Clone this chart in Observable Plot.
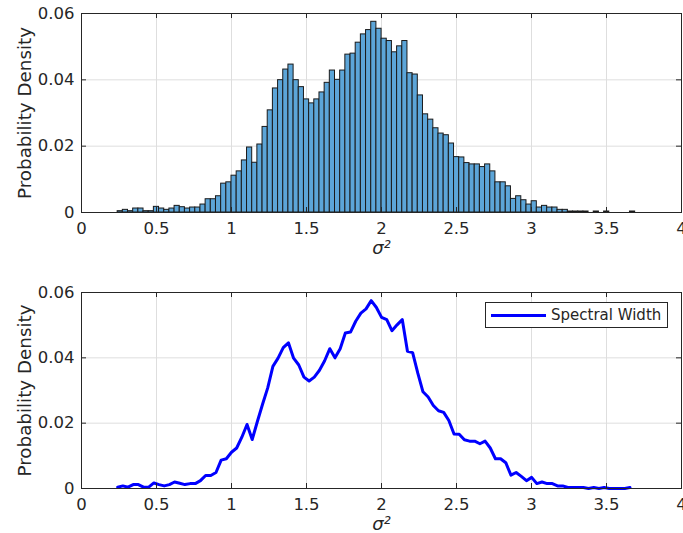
<!DOCTYPE html>
<html>
<head>
<meta charset="utf-8">
<script src="https://cdn.jsdelivr.net/npm/d3@7"></script>
<script src="https://cdn.jsdelivr.net/npm/@observablehq/plot@0.6"></script>
<style>
  html, body { margin: 0; padding: 0; background: #fff; }
  #chart { position: relative; width: 683px; height: 533px; font-family: "DejaVu Sans", sans-serif; }
  #chart svg { display: block; }
  .legend { position: absolute; left: 485px; top: 302px; width: 181px; height: 24px;
            border: 1px solid #262626; background: #fff; box-sizing: content-box; }
  .legend .swatch { position: absolute; left: 5px; top: 11px; width: 55px; height: 3px; background: #0000ff; }
  .legend .label { position: absolute; left: 65px; top: 0; line-height: 24px; font-size: 15px; color: #262626; white-space: nowrap; }
</style>
</head>
<body>
<div id="chart"></div>
<script>
// Histogram of sigma^2 (probability per bin, 100 equal bins)
const binStart = 0.241;
const binWidth = 0.0345;
const density = [
  0.0004, 0.0008, 0.0004, 0.0012, 0.0012, 0.0004, 0.0004, 0.0017, 0.0012, 0.0008,
  0.0012, 0.0020, 0.0016, 0.0012, 0.0015, 0.0015, 0.0024, 0.0040, 0.0040, 0.0049,
  0.0087, 0.0091, 0.0111, 0.0124, 0.0157, 0.0196, 0.0150, 0.0205, 0.0258, 0.0308,
  0.0374, 0.0399, 0.0431, 0.0446, 0.0399, 0.0378, 0.0341, 0.0329, 0.0341, 0.0362,
  0.0391, 0.0428, 0.0400, 0.0428, 0.0476, 0.0479, 0.0512, 0.0537, 0.0550, 0.0575,
  0.0554, 0.0524, 0.0517, 0.0483, 0.0501, 0.0517, 0.0420, 0.0416, 0.0353, 0.0296,
  0.0280, 0.0254, 0.0238, 0.0233, 0.0208, 0.0167, 0.0166, 0.0149, 0.0145, 0.0145,
  0.0137, 0.0145, 0.0124, 0.0091, 0.0091, 0.0079, 0.0041, 0.0049, 0.0037, 0.0024,
  0.0034, 0.0015, 0.0020, 0.0015, 0.0015, 0.0008, 0.0008, 0.0003, 0.0003, 0.0003,
  0.0003, 0.0000, 0.0003, 0.0000, 0.0003, 0.0000, 0.0000, 0.0000, 0.0000, 0.0003
];
const xTicks = [0, 0.5, 1, 1.5, 2, 2.5, 3, 3.5, 4];
const yTicks = [0, 0.02, 0.04, 0.06];
const yLabel = "Probability Density";
const xLabel = "σ²";
const seriesName = "Spectral Width";

const bins = density.map((p, i) => ({
  x1: binStart + i * binWidth,
  x2: binStart + (i + 1) * binWidth,
  p
}));

const ink = "#262626";
const W = 683, ML = 81, MR = 2;

function panel({height, marginTop, marginBottom, data}) {
  const ph = height - marginTop - marginBottom;
  const pw = W - ML - MR;
  return Plot.plot({
    width: W, height, marginLeft: ML, marginRight: MR, marginTop, marginBottom,
    style: {fontFamily: "DejaVu Sans", fontSize: "16.5px", color: ink, background: "white", overflow: "visible"},
    x: {domain: [0, 4]},
    y: {domain: [0, 0.06]},
    marks: [
      Plot.gridX(xTicks, {stroke: "#dedede", strokeOpacity: 1}),
      Plot.gridY(yTicks, {stroke: "#dedede", strokeOpacity: 1}),
      ...data,
      // inward ticks on all four sides
      Plot.tickX(xTicks, {x: d => d, insetTop: ph - 5, stroke: ink}),
      Plot.tickX(xTicks, {x: d => d, insetBottom: ph - 5, stroke: ink}),
      Plot.tickY(yTicks, {y: d => d, insetRight: pw - 5, stroke: ink}),
      Plot.tickY(yTicks, {y: d => d, insetLeft: pw - 5, stroke: ink}),
      Plot.frame({stroke: ink}),
      Plot.axisX(xTicks, {tickSize: 0, tickPadding: 10, tickFormat: d => String(d), label: null, fill: ink}),
      Plot.axisY(yTicks, {tickSize: 0, tickPadding: 7, tickFormat: d => String(d), label: null, fill: ink}),
      Plot.text([yLabel], {frameAnchor: "left", dx: -50.5, rotate: -90, textAnchor: "middle",
                           lineAnchor: "bottom", fontSize: 18.3, fill: ink}),
      Plot.text([xLabel], {frameAnchor: "bottom", dy: 41, lineAnchor: "bottom", fontStyle: "italic",
                           fontSize: 18, fill: ink})
    ]
  });
}

const histPanel = panel({
  height: 266, marginTop: 13, marginBottom: 54,
  data: [
    Plot.rectY(bins, {filter: d => d.p > 0, x1: "x1", x2: "x2", y: "p",
                      fill: "#5ca5d8", stroke: "#1a1a1a", strokeWidth: 1})
  ]
});

const linePanel = panel({
  height: 267, marginTop: 26, marginBottom: 45,
  data: [
    Plot.line(bins, {x: "x1", y: "p", stroke: "#0000ff", strokeWidth: 3})
  ]
});

const chart = document.getElementById("chart");
chart.appendChild(histPanel);
chart.appendChild(linePanel);

const legend = document.createElement("div");
legend.className = "legend";
legend.innerHTML = `<div class="swatch"></div><div class="label"></div>`;
legend.querySelector(".label").textContent = seriesName;
chart.appendChild(legend);
</script>
</body>
</html>
